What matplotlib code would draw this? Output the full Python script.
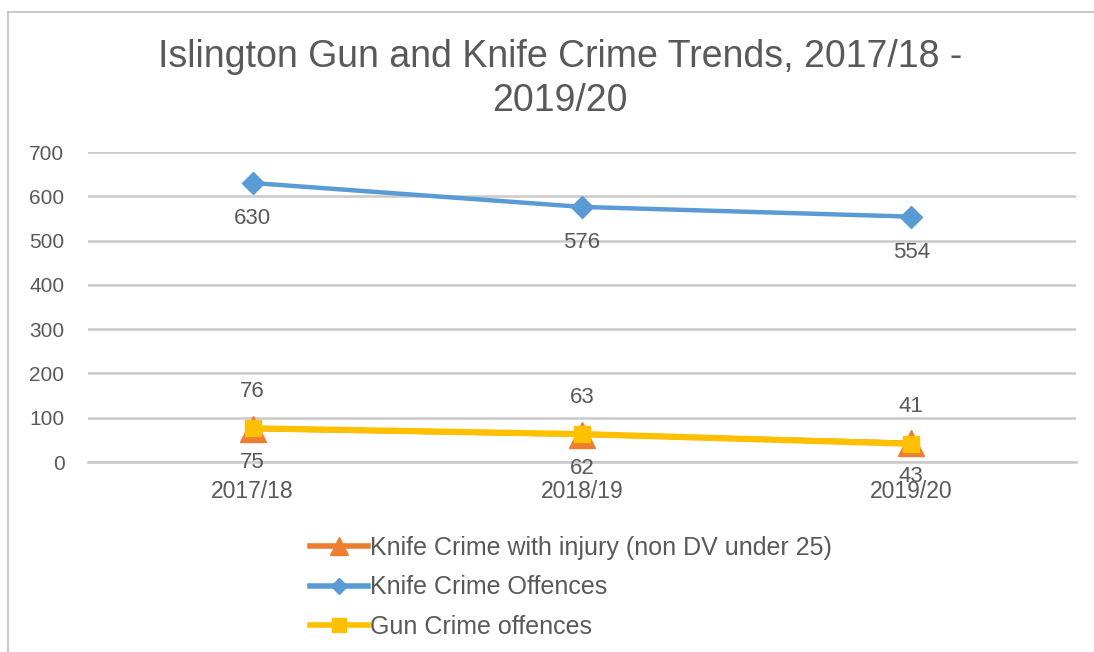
import matplotlib.pyplot as plt
from matplotlib.lines import Line2D

# Data
years = ['2017/18', '2018/19', '2019/20']
knife_injury = [75, 62, 43]
knife_offences = [630, 576, 554]
gun_offences = [76, 63, 41]
y_ticks = [0, 100, 200, 300, 400, 500, 600, 700]

plt.rcParams['font.family'] = ['Liberation Sans', 'DejaVu Sans']

TXT = '#595959'
ORANGE = '#ED7D31'
BLUE = '#5B9BD5'
YELLOW = '#FFC000'
GRID = '#c9c9c9'

fig = plt.figure(figsize=(10.94, 6.52), dpi=100)
ax = fig.add_axes([88 / 1094, 1 - 462 / 652, (1076 - 88) / 1094, (462 - 152) / 652])

x = list(range(len(years)))

ax.plot(x, knife_injury, color=ORANGE, lw=3.5, marker='^', ms=19, zorder=3)
ax.plot(x, knife_offences, color=BLUE, lw=3.2, marker='D', ms=11, zorder=3)
ax.plot(x, gun_offences, color=YELLOW, lw=4.5, marker='s', ms=11, zorder=4)

for xi, v in zip(x, knife_offences):
    ax.annotate(str(v), (xi, v), xytext=(0, -36), textcoords='offset pixels',
                ha='center', va='center', fontsize=16, color=TXT)
for xi, v in zip(x, knife_injury):
    ax.annotate(str(v), (xi, v), xytext=(0, -34), textcoords='offset pixels',
                ha='center', va='center', fontsize=16, color=TXT)
for xi, v in zip(x, gun_offences):
    ax.annotate(str(v), (xi, v), xytext=(0, 37), textcoords='offset pixels',
                ha='center', va='center', fontsize=16, color=TXT)

ax.set_xlim(-0.5, 2.5)
ax.set_ylim(0, 700)
ax.set_yticks(y_ticks)
ax.set_xticks(x)
ax.set_xticklabels(years)
ax.tick_params(axis='both', length=0, labelsize=15, colors=TXT)
ax.tick_params(axis='x', labelsize=16.5, pad=13)
ax.tick_params(axis='y', pad=17)
ax.grid(axis='y', color=GRID, lw=1.8)
ax.set_axisbelow(True)
for s in ['top', 'right', 'left']:
    ax.spines[s].set_visible(False)
ax.spines['bottom'].set_color(GRID)
ax.spines['bottom'].set_linewidth(1.8)

fig.text(0.512, 1 - 79 / 652, 'Islington Gun and Knife Crime Trends, 2017/18 -\n2019/20',
         ha='center', va='center', fontsize=27, color=TXT, linespacing=1.28)

handles = [
    Line2D([], [], color=ORANGE, lw=4, marker='^', ms=13),
    Line2D([], [], color=BLUE, lw=4, marker='D', ms=8),
    Line2D([], [], color=YELLOW, lw=4, marker='s', ms=10),
]
labels = ['Knife Crime with injury (non DV under 25)', 'Knife Crime Offences', 'Gun Crime offences']
fig.legend(handles, labels, loc='upper left', bbox_to_anchor=(300 / 1094, 1 - 526 / 652),
           frameon=False, fontsize=18, labelcolor=TXT, handlelength=2.3,
           handletextpad=0.1, labelspacing=0.62, borderaxespad=0)

# chart border
fig.add_artist(Line2D([8 / 1094, 8 / 1094], [0, 1 - 12 / 652], transform=fig.transFigure,
                      color='#bfbfbf', lw=1.2))
fig.add_artist(Line2D([8 / 1094, 1], [1 - 12 / 652, 1 - 12 / 652], transform=fig.transFigure,
                      color='#bfbfbf', lw=1.2))

fig.savefig('out.png', dpi=100)
